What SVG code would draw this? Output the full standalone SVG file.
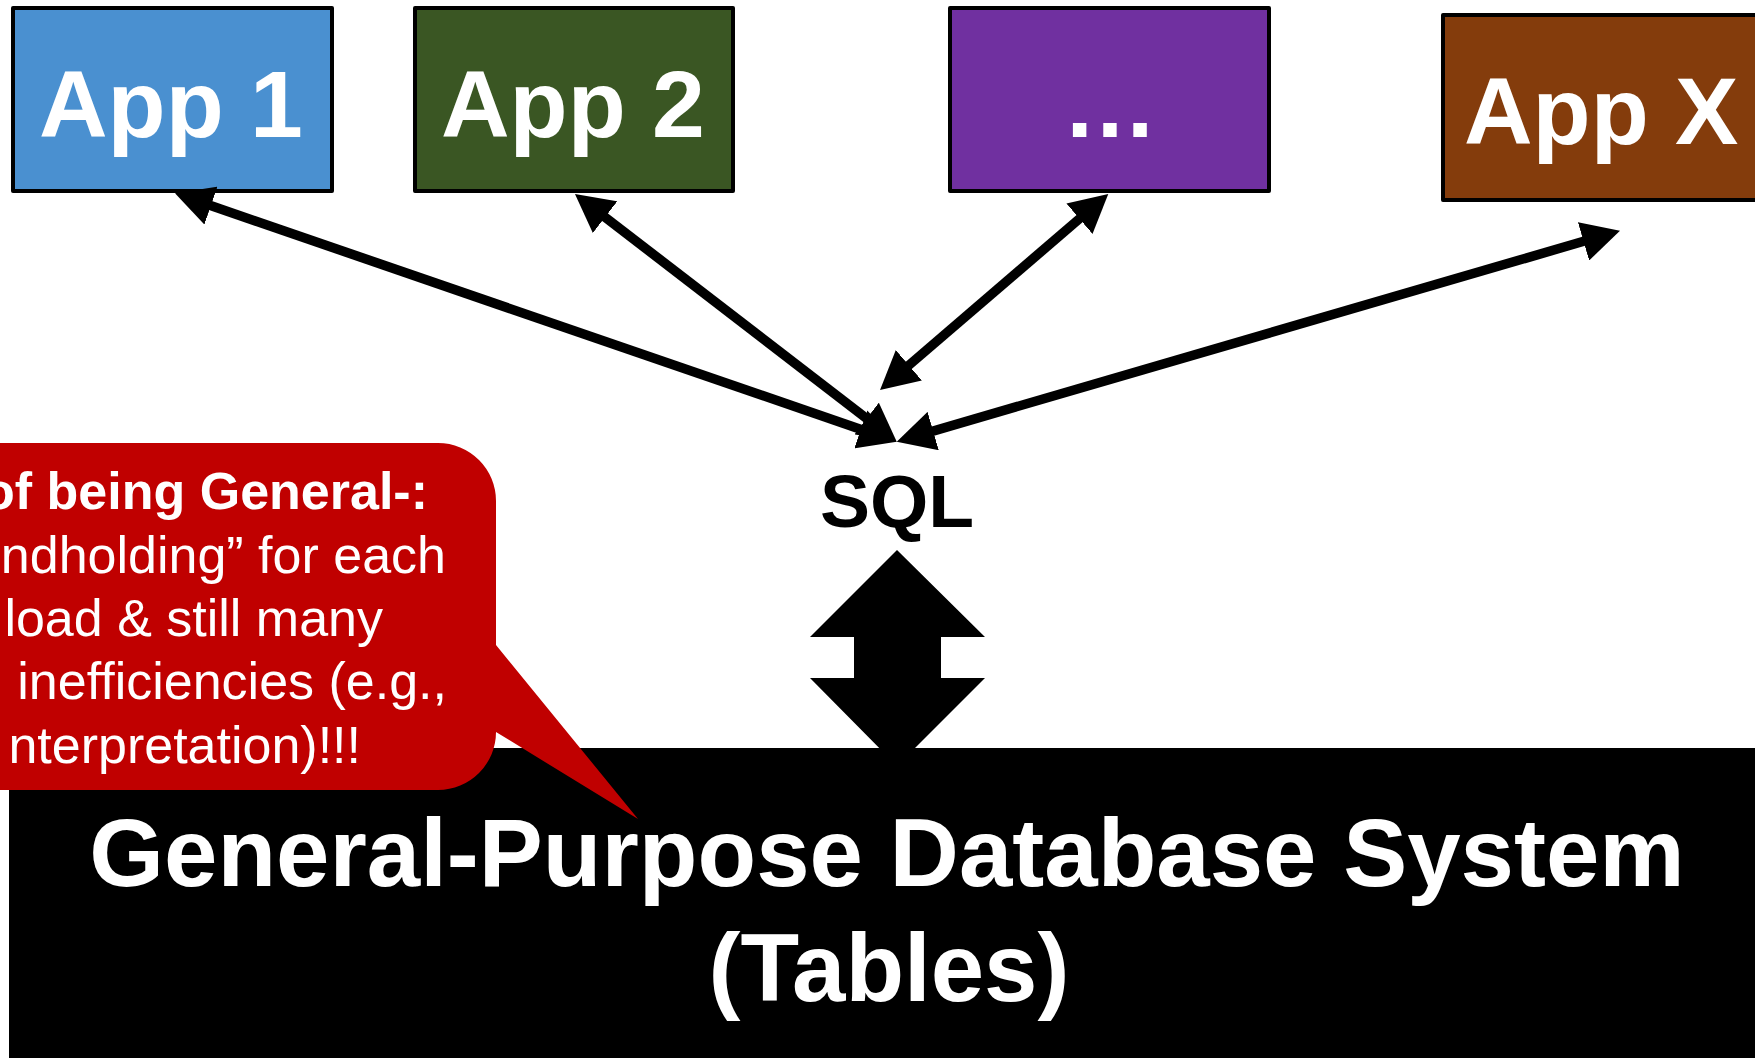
<svg xmlns="http://www.w3.org/2000/svg" width="1755" height="1058" viewBox="0 0 1755 1058">
<style>
.box{stroke:#000;stroke-width:4;stroke-linejoin:round}
.apptxt{font-family:"Liberation Sans",Arial,sans-serif;font-weight:bold;font-size:95px;fill:#fff}
.conn{stroke:#000;stroke-width:9.5;fill:none}
.big{font-family:"Liberation Sans",Arial,sans-serif;font-weight:bold;font-size:96px;fill:#fff;text-anchor:middle}
.cb{font-family:"Liberation Sans",Arial,sans-serif;font-weight:bold;font-size:52px;fill:#fff;text-anchor:end}
.cr{font-family:"Liberation Sans",Arial,sans-serif;font-size:52px;fill:#fff;text-anchor:end}
</style>
<defs>
<marker id="head" viewBox="0 0 38 40" refX="18" refY="20" markerWidth="38" markerHeight="40" markerUnits="userSpaceOnUse" orient="auto-start-reverse">
<path d="M0,0 L38,20 L0,40 Z" fill="#000"/>
</marker>
</defs>
<rect width="1755" height="1058" fill="#fff"/>

<g id="db">
<rect x="9" y="748" width="1760" height="320" fill="#000"/>
<text class="big" x="887" y="886">General-Purpose Database System</text>
<text class="big" x="889" y="1001">(Tables)</text>
</g>

<g id="app1">
<rect class="box" x="13" y="8" width="319" height="183" fill="#4A90D0"/>
<text class="apptxt" x="39" y="137">App 1</text>
</g>
<g id="app2">
<rect class="box" x="415" y="8" width="318" height="183" fill="#3A5623"/>
<text class="apptxt" x="441" y="137">App 2</text>
</g>
<g id="appdots">
<rect class="box" x="950" y="8" width="319" height="183" fill="#7030A0"/>
<text class="apptxt" x="1110" y="137" text-anchor="middle">…</text>
</g>
<g id="appx">
<rect class="box" x="1443" y="15" width="400" height="185" fill="#843C0C"/>
<text class="apptxt" x="1464" y="144">App X</text>
</g>

<g id="sql">
<text x="820" y="527" font-family="Liberation Sans, Arial, sans-serif" font-weight="bold" font-size="75" fill="#000">SQL</text>
<polygon points="897,550 985,637 941,637 941,678 985,678 897,766 810,678 854,678 854,637 810,637" fill="#000"/>
</g>

<g id="connectors">
<line class="conn" x1="193.9" y1="199.8" x2="877.8" y2="435.2" marker-start="url(#head)" marker-end="url(#head)"/>
<line class="conn" x1="590.8" y1="206.2" x2="880.9" y2="429.5" marker-start="url(#head)" marker-end="url(#head)"/>
<line class="conn" x1="1093.1" y1="207" x2="895.2" y2="377" marker-start="url(#head)" marker-end="url(#head)"/>
<line class="conn" x1="1600.8" y1="236.3" x2="915.9" y2="436.1" marker-start="url(#head)" marker-end="url(#head)"/>
</g>

<g id="callout">
<path d="M-100,443 H438 A58,58 0 0 1 496,501 V645 L638,819 L496,732 A58,58 0 0 1 438,790 H-100 Z" fill="#C00000"/>
<text class="cb" x="428" y="509">of being General-:</text>
<text class="cr" x="446" y="573">ndholding” for each</text>
<text class="cr" x="383" y="636">load &amp; still many</text>
<text class="cr" x="447" y="699">inefficiencies (e.g.,</text>
<text class="cr" x="361" y="763">nterpretation)!!!</text>
</g>
</svg>
